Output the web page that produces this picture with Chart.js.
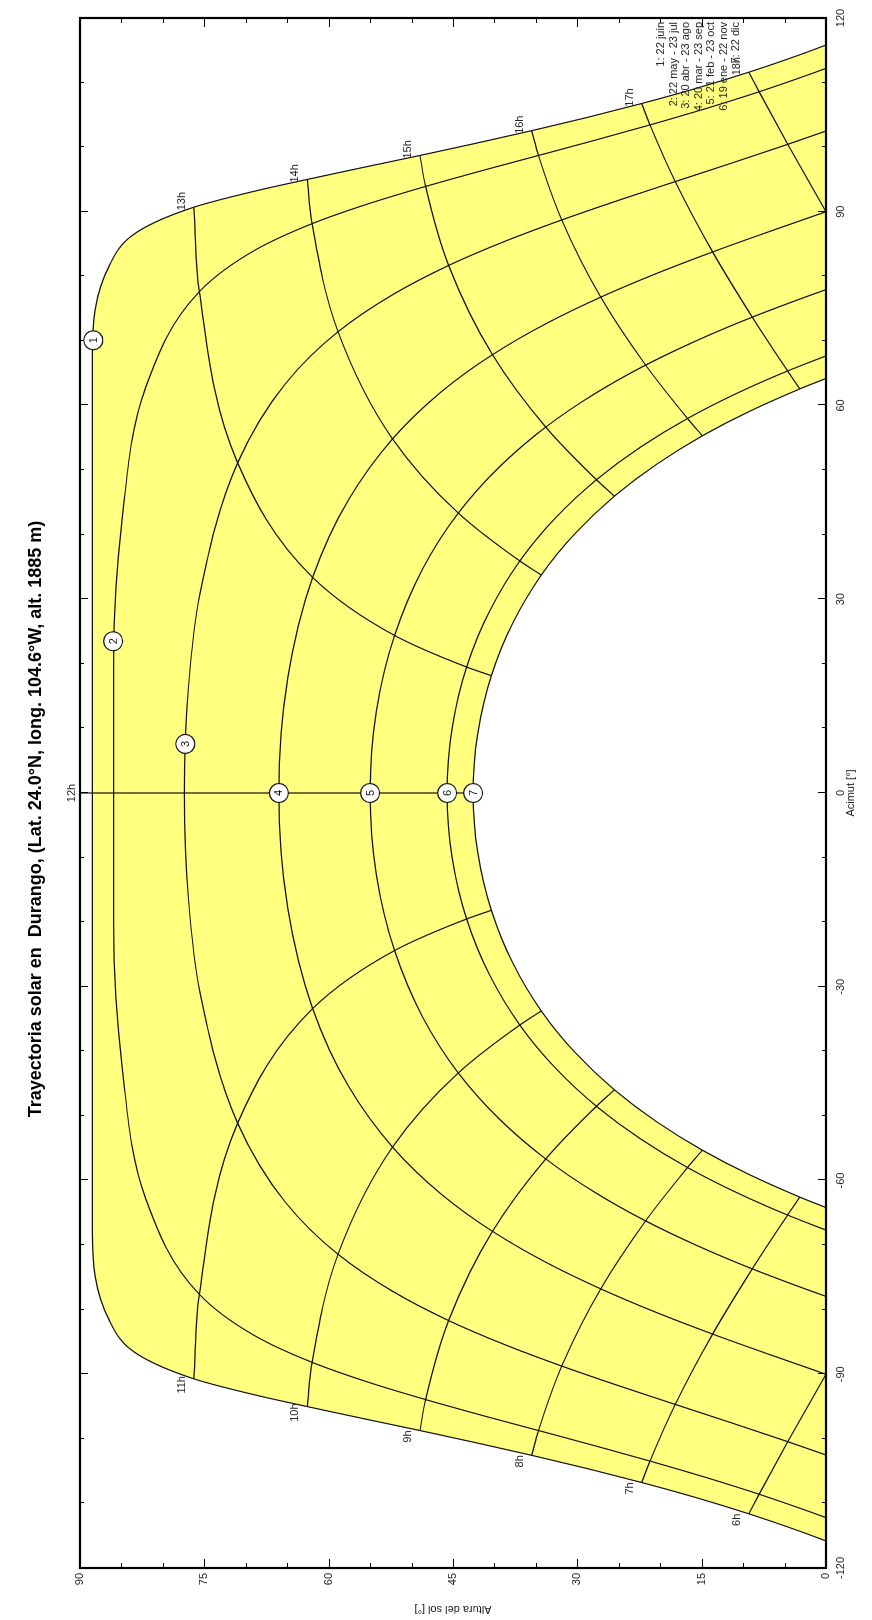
<!DOCTYPE html>
<html>
<head>
<meta charset="utf-8">
<title>Trayectoria solar en Durango</title>
<script src="https://cdn.jsdelivr.net/npm/chart.js@4.4.1/dist/chart.umd.min.js"></script>
<style>
  html, body { margin: 0; padding: 0; background: #fff; overflow: hidden; }
  /* el grafico se dibuja horizontal y se gira 90 grados como en la imagen */
  #giro { position: absolute; left: 0; top: 0; width: 1620px; height: 872px;
          transform-origin: 0 0; transform: translateY(1620px) rotate(-90deg); }
</style>
</head>
<body>
<div id="giro"><canvas id="chartSol" width="1620" height="872"></canvas></div>
<script>
// [acimut, altura] de cada curva de fecha
var jun = [[-115.81,0],[-114.38,3.00],[-111.61,9.31],[-109.08,15.73],[-106.76,22.25],[-104.59,28.85],[-102.55,35.52],[-100.60,42.23],[-98.72,48.98],[-96.88,55.77],[-95.01,62.58],[-93.04,69.41],[-90.71,76.26],[-86.86,83.11],[-81.50,86.52],[-68.12,88.51],
           [68.12,88.51],[81.50,86.52],[86.86,83.11],[90.71,76.26],[93.04,69.41],[95.01,62.58],[96.88,55.77],[98.72,48.98],[100.60,42.23],[102.55,35.52],[104.59,28.85],[106.76,22.25],[109.08,15.73],[111.61,9.31],[114.38,3.00],[115.81,0]];
var mayJul = [[-112.21,0],[-111.43,1.64],[-108.58,8.07],[-105.93,14.62],[-103.44,21.24],[-101.05,27.94],[-98.71,34.69],[-96.37,41.48],[-93.92,48.31],[-91.26,55.15],[-88.15,62.00],[-84.08,68.85],[-77.63,75.60],[-62.78,82.08],[-43.15,84.85],[-20.38,85.95],
              [20.38,85.95],[43.15,84.85],[62.78,82.08],[77.63,75.60],[84.08,68.85],[88.15,62.00],[91.26,55.15],[93.92,48.31],[96.37,41.48],[98.71,34.69],[101.05,27.94],[103.44,21.24],[105.93,14.62],[108.58,8.07],[111.43,1.64],[112.21,0]];
var abrAgo = [[-102.50,0],[-100.44,4.61],[-97.53,11.38],[-94.67,18.19],[-91.77,25.03],[-88.73,31.88],[-85.43,38.72],[-81.68,45.53],[-77.18,52.26],[-71.43,58.87],[-63.41,65.19],[-51.12,70.98],[-30.79,75.53],[-16.44,76.91],[0,77.40],
              [16.44,76.91],[30.79,75.53],[51.12,70.98],[63.41,65.19],[71.43,58.87],[77.18,52.26],[81.68,45.53],[85.43,38.72],[88.73,31.88],[91.77,25.03],[94.67,18.19],[97.53,11.38],[100.44,4.61],[102.50,0]];
var marSep = [[-90,0],[-86.93,6.85],[-83.78,13.68],[-80.44,20.46],[-76.78,27.18],[-72.67,33.79],[-67.87,40.24],[-62.07,46.45],[-54.83,52.29],[-45.52,57.56],[-33.38,61.93],[-17.94,64.93],[0,66.00],
              [17.94,64.93],[33.38,61.93],[45.52,57.56],[54.83,52.29],[62.07,46.45],[67.87,40.24],[72.67,33.79],[76.78,27.18],[80.44,20.46],[83.78,13.68],[86.93,6.85],[90,0]];
var febOct = [[-77.94,0],[-76.90,2.26],[-73.68,8.89],[-70.16,15.40],[-66.26,21.76],[-61.81,27.92],[-56.66,33.81],[-50.58,39.33],[-43.34,44.36],[-34.67,48.67],[-24.40,52.05],[-12.67,54.24],[0,55.00],
              [12.67,54.24],[24.40,52.05],[34.67,48.67],[43.34,44.36],[50.58,39.33],[56.66,33.81],[61.81,27.92],[66.26,21.76],[70.16,15.40],[73.68,8.89],[76.90,2.26],[77.94,0]];
var eneNov = [[-67.68,0],[-65.35,4.63],[-61.88,10.76],[-57.99,16.70],[-53.57,22.36],[-48.50,27.69],[-42.66,32.59],[-35.92,36.94],[-28.20,40.57],[-19.50,43.35],[-9.99,45.10],[0,45.70],
              [9.99,45.10],[19.50,43.35],[28.20,40.57],[35.92,36.94],[42.66,32.59],[48.50,27.69],[53.57,22.36],[57.99,16.70],[61.88,10.76],[65.35,4.63],[67.68,0]];
var dic = [[-64.19,0],[-62.57,3.16],[-59.15,9.15],[-55.31,14.91],[-50.94,20.39],[-45.96,25.52],[-40.26,30.21],[-33.75,34.34],[-26.38,37.77],[-18.16,40.37],[-9.27,42.00],[0,42.56],
           [9.27,42.00],[18.16,40.37],[26.38,37.77],[33.75,34.34],[40.26,30.21],[45.96,25.52],[50.94,20.39],[55.31,14.91],[59.15,9.15],[62.57,3.16],[64.19,0]];

// lineas horarias (de 22 jun a 22 dic)
var h6  = [[-111.61,9.31],[-108.58,8.07],[-100.44,4.61],[-90,0]];
var h7  = [[-106.76,22.25],[-103.44,21.24],[-94.67,18.19],[-83.78,13.68],[-73.68,8.89],[-65.35,4.63],[-62.57,3.16]];
var h8  = [[-102.55,35.52],[-98.71,34.69],[-88.73,31.88],[-76.78,27.18],[-66.26,21.76],[-57.99,16.70],[-55.31,14.91]];
var h9  = [[-98.72,48.98],[-93.92,48.31],[-81.68,45.53],[-67.87,40.24],[-56.66,33.81],[-48.50,27.69],[-45.96,25.52]];
var h10 = [[-95.01,62.58],[-88.15,62.00],[-71.43,58.87],[-54.83,52.29],[-43.34,44.36],[-35.92,36.94],[-33.75,34.34]];
var h11 = [[-90.71,76.26],[-77.63,75.60],[-51.12,70.98],[-33.38,61.93],[-24.40,52.05],[-19.50,43.35],[-18.16,40.37]];
var h12 = [[0,90],[0,42.56]];
var h13 = [[90.71,76.26],[77.63,75.60],[51.12,70.98],[33.38,61.93],[24.40,52.05],[19.50,43.35],[18.16,40.37]];
var h14 = [[95.01,62.58],[88.15,62.00],[71.43,58.87],[54.83,52.29],[43.34,44.36],[35.92,36.94],[33.75,34.34]];
var h15 = [[98.72,48.98],[93.92,48.31],[81.68,45.53],[67.87,40.24],[56.66,33.81],[48.50,27.69],[45.96,25.52]];
var h16 = [[102.55,35.52],[98.71,34.69],[88.73,31.88],[76.78,27.18],[66.26,21.76],[57.99,16.70],[55.31,14.91]];
var h17 = [[106.76,22.25],[103.44,21.24],[94.67,18.19],[83.78,13.68],[73.68,8.89],[65.35,4.63],[62.57,3.16]];
var h18 = [[111.61,9.31],[108.58,8.07],[100.44,4.61],[90,0]];

var horas = [h6, h7, h8, h9, h10, h11, h12, h13, h14, h15, h16, h17, h18];
var etiquetasHoras = ['6h', '7h', '8h', '9h', '10h', '11h', '12h', '13h', '14h', '15h', '16h', '17h', '18h'];

// circulos numerados sobre cada curva
var marcadores = [[70.1,88.4],[23.5,86.0],[7.6,77.3],[0,66.0],[0,55.0],[0,45.7],[0,42.56]];

var leyenda = ['1: 22 juin', '2: 22 may - 23 jul', '3: 20 abr - 23 ago', '4: 20 mar - 23 sep',
               '5: 21 feb - 23 oct', '6: 19 ene - 22 nov', '7: 22 dic'];

var ticksAcimut = [-120, -90, -60, -30, 0, 30, 60, 90, 120];
var ticksAltura = [0, 15, 30, 45, 60, 75, 90];

var FUENTE = '"Liberation Sans", Arial, sans-serif';
var LINEA = '#111111';
var AMARILLO = '#FFFF80';

function puntos(arr) {
    return arr.map(function (p) { return { x: p[0], y: p[1] }; });
}

function curva(arr, extra) {
    var ds = {
        data: puntos(arr),
        borderColor: LINEA,
        borderWidth: 1.2,
        pointRadius: 0,
        fill: false,
        cubicInterpolationMode: 'monotone'
    };
    for (var k in extra) ds[k] = extra[k];
    return ds;
}

//marco, marcas de escala, etiquetas de hora, numeros y leyenda
var marcoPlugin = {
    id: 'marco',
    afterDraw: function (chart) {
        var ctx = chart.ctx, a = chart.chartArea;
        var sx = chart.scales.x, sy = chart.scales.y;
        ctx.save();
        ctx.strokeStyle = '#000';
        ctx.lineWidth = 1;
        ctx.beginPath();
        for (var v = -120; v <= 120; v += 10) {
            var px = Math.round(sx.getPixelForValue(v)) + 0.5;
            var l = (ticksAcimut.indexOf(v) >= 0) ? 8 : 4;
            ctx.moveTo(px, a.bottom); ctx.lineTo(px, a.bottom - l);
            ctx.moveTo(px, a.top); ctx.lineTo(px, a.top + l);
        }
        for (var h = 0; h <= 90; h += 5) {
            var py = Math.round(sy.getPixelForValue(h)) + 0.5;
            var l2 = (ticksAltura.indexOf(h) >= 0) ? 9 : 5;
            ctx.moveTo(a.left, py); ctx.lineTo(a.left + l2, py);
            ctx.moveTo(a.right, py); ctx.lineTo(a.right - l2, py);
        }
        ctx.stroke();
        ctx.lineWidth = 2.2;
        ctx.strokeRect(a.left, a.top, a.right - a.left, a.bottom - a.top);

        // etiquetas de hora junto al extremo de 22 jun
        ctx.fillStyle = '#222';
        ctx.font = '11px ' + FUENTE;
        ctx.textAlign = 'center';
        ctx.textBaseline = 'middle';
        horas.forEach(function (linea, i) {
            var x = sx.getPixelForValue(linea[0][0]);
            var y = sy.getPixelForValue(linea[0][1]);
            if (etiquetasHoras[i] === '12h') {
                ctx.fillText(etiquetasHoras[i], x, y - 8);
            } else {
                var dx = linea[0][0] < 0 ? -6 : 6;
                ctx.fillText(etiquetasHoras[i], x + dx, y - 12);
            }
        });

        ctx.font = '11px ' + FUENTE;
        ctx.fillStyle = '#111';
        marcadores.forEach(function (m, i) {
            ctx.fillText(String(i + 1), sx.getPixelForValue(m[0]), sy.getPixelForValue(m[1]) + 0.5);
        });

        ctx.font = '11px ' + FUENTE;
        ctx.fillStyle = '#222';
        ctx.textAlign = 'right';
        leyenda.forEach(function (t, i) {
            ctx.fillText(t, a.right - 4, a.top + 581 + i * 12.5);
        });
        ctx.restore();
    }
};

function renderTrayectoria() {
    Chart.defaults.font.family = FUENTE;
    var ctx = document.getElementById('chartSol').getContext('2d');

    var datasets = [];
    datasets.push({
        data: puntos(marcadores),
        showLine: false,
        pointRadius: 9.5,
        pointBackgroundColor: '#fff',
        pointBorderColor: '#111',
        pointBorderWidth: 1.2,
        clip: false
    });
    datasets.push(curva(dic, { fill: 'origin', backgroundColor: '#fff' }));
    datasets.push(curva(jun, { fill: 'origin', backgroundColor: AMARILLO }));
    [mayJul, abrAgo, marSep, febOct, eneNov].forEach(function (c) { datasets.push(curva(c)); });
    horas.forEach(function (hl, i) {
        if (etiquetasHoras[i] === '12h') {
            datasets.push(curva(hl, { cubicInterpolationMode: 'default', tension: 0 }));
        } else {
            datasets.push(curva(hl));
        }
    });

    new Chart(ctx, {
        type: 'line',
        data: { datasets: datasets },
        options: {
            responsive: false,
            animation: false,
            events: [],
            devicePixelRatio: 1,
            layout: { padding: { left: 0, right: 18, top: 0, bottom: 0 } },
            plugins: {
                legend: { display: false },
                tooltip: { enabled: false },
                filler: { drawTime: 'beforeDatasetsDraw' },
                title: {
                    display: true,
                    text: 'Trayectoria solar en  Durango, (Lat. 24.0°N, long. 104.6°W, alt. 1885 m)',
                    color: '#000',
                    font: { size: 18, weight: 'bold' },
                    padding: { top: 25, bottom: 33.4 }
                }
            },
            scales: {
                x: {
                    type: 'linear',
                    min: -120, max: 120,
                    grid: { display: false, drawTicks: false },
                    border: { display: false },
                    ticks: { stepSize: 30, padding: 8, color: '#222', font: { size: 11 }, maxRotation: 0 },
                    title: { display: true, text: 'Acimut [°]', color: '#222', font: { size: 11 }, padding: { top: 0, bottom: 14.5 } },
                    afterFit: function (s) { s.height = 46; }
                },
                y: {
                    type: 'linear',
                    min: 0, max: 90,
                    grid: { display: false, drawTicks: false },
                    border: { display: false },
                    ticks: { stepSize: 15, padding: 5, color: '#222', font: { size: 11 } },
                    title: { display: true, text: 'Altura del sol [°]', color: '#222', font: { size: 11 }, padding: { top: 4, bottom: 0 } },
                    afterFit: function (s) { s.width = 52; }
                }
            }
        },
        plugins: [marcoPlugin]
    });
}

renderTrayectoria();
</script>
</body>
</html>
